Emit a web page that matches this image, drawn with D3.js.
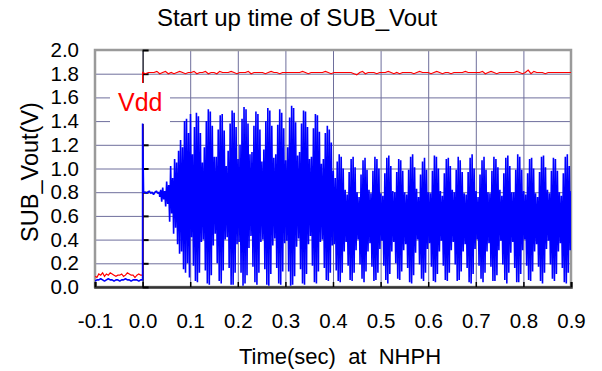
<!DOCTYPE html>
<html>
<head>
<meta charset="utf-8">
<script src="https://cdn.jsdelivr.net/npm/d3@7"></script>
<style>
  html, body { margin: 0; padding: 0; background: #fff; }
  svg { display: block; font-family: "Liberation Sans", Arial, sans-serif; }
</style>
</head>
<body>
<svg id="chart" width="602" height="371"></svg>
<script>
// ---- axis setup ----
const xTicks = [-0.1, 0.0, 0.1, 0.2, 0.3, 0.4, 0.5, 0.6, 0.7, 0.8, 0.9];
const xTickLabels = ["-0.1", "0.0", "0.1", "0.2", "0.3", "0.4", "0.5", "0.6", "0.7", "0.8", "0.9"];
const yTicks = [0.0, 0.2, 0.4, 0.6, 0.8, 1.0, 1.2, 1.4, 1.6, 1.8, 2.0];
const yTickLabels = ["0.0", "0.2", "0.4", "0.6", "0.8", "1.0", "1.2", "1.4", "1.6", "1.8", "2.0"];

// ---- Vdd supply (red) ----
// before power-on: sampled every 4 ms from -0.1 s to 0 s
const vddPreStart = -0.1, vddPreStep = 0.004;
const vddPre = [0.09, 0.08, 0.11, 0.10, 0.12, 0.09, 0.11, 0.10, 0.12, 0.11, 0.10, 0.09, 0.10,
                0.10, 0.11, 0.09, 0.10, 0.12, 0.11, 0.10, 0.10, 0.08, 0.10, 0.11, 0.10, 0.10];
// after power-on: sampled every 6 ms from 0 s to 0.9 s
const vddPostStep = 0.006;
const vddPost = [
  1.81,1.80,1.81,1.81,1.81,1.82,1.80,1.81,1.82,1.80,
  1.81,1.80,1.81,1.82,1.81,1.80,1.81,1.81,1.82,1.80,
  1.81,1.81,1.82,1.80,1.81,1.81,1.80,1.82,1.81,1.81,
  1.81,1.82,1.81,1.80,1.81,1.81,1.81,1.82,1.80,1.81,
  1.81,1.81,1.81,1.80,1.81,1.82,1.81,1.81,1.80,1.81,
  1.81,1.81,1.81,1.81,1.81,1.81,1.82,1.81,1.80,1.81,
  1.81,1.81,1.81,1.81,1.82,1.81,1.80,1.81,1.81,1.81,
  1.81,1.81,1.81,1.81,1.80,1.79,1.81,1.82,1.80,1.81,
  1.81,1.81,1.80,1.81,1.81,1.81,1.82,1.81,1.80,1.81,
  1.80,1.81,1.81,1.81,1.81,1.80,1.81,1.82,1.81,1.81,
  1.81,1.80,1.81,1.82,1.81,1.80,1.81,1.81,1.80,1.81,
  1.81,1.81,1.81,1.82,1.81,1.81,1.81,1.81,1.81,1.82,
  1.80,1.81,1.82,1.81,1.80,1.81,1.81,1.81,1.81,1.81,
  1.81,1.82,1.81,1.80,1.81,1.83,1.80,1.82,1.81,1.81,
  1.81,1.80,1.81,1.81,1.81,1.81,1.81,1.81,1.81,1.81,
  1.81];

// ---- SUB_Vout (blue) ----
const subPre = [0.05, 0.06, 0.06, 0.07, 0.06, 0.05, 0.06, 0.07, 0.06, 0.06, 0.05, 0.06, 0.06,
                0.05, 0.06, 0.06, 0.07, 0.06, 0.06, 0.05, 0.06, 0.06, 0.06, 0.05, 0.06, 0.06];
const subSpike = 1.38;                       // overshoot at power-on
const subSettleStart = 0.002, subSettleStep = 0.003;
const subSettle = [0.80, 0.80, 0.79, 0.80, 0.81, 0.79, 0.80, 0.78, 0.80, 0.81, 0.79, 0.80];
// oscillation: one swing (low -> high) per sample, 6 swings per 25 ms beat
const swingStart = 0.036, swingStep = 0.025 / 6;
const swingHigh = [
  0.82,0.84,0.81,0.89,0.86,1.02, 0.92,1.08,1.05,1.15,1.24,1.18, 1.40,1.42,1.30,1.46,
  1.12,1.35,1.47,1.44,1.30,1.05,
  1.18,1.40,1.50,1.48,1.36,1.10,
  1.10,1.33,1.45,1.46,1.32,1.02,
  1.15,1.38,1.49,1.47,1.35,1.08,
  1.20,1.42,1.52,1.50,1.38,1.12,
  1.14,1.36,1.48,1.46,1.33,1.06,
  1.16,1.40,1.51,1.49,1.36,1.09,
  1.12,1.37,1.50,1.47,1.34,1.07,
  1.18,1.43,1.53,1.51,1.39,1.11,
  1.14,1.38,1.49,1.48,1.35,1.08,
  1.10,1.34,1.46,1.45,1.31,1.04,
  1.08,1.30,1.36,1.33,1.22,0.98,
  0.92,1.06,1.12,1.10,1.00,0.82,
  0.78,0.97,1.08,1.10,1.01,0.80,
  0.76,0.95,1.07,1.09,0.99,0.82,
  0.79,0.98,1.10,1.08,1.00,0.79,
  0.77,0.96,1.09,1.11,1.02,0.81,
  0.80,0.97,1.08,1.07,0.98,0.80,
  0.78,0.99,1.10,1.12,1.01,0.83,
  0.76,0.95,1.06,1.09,0.99,0.80,
  0.79,0.98,1.11,1.10,1.00,0.81,
  0.77,0.96,1.08,1.09,1.02,0.82,
  0.80,0.99,1.10,1.07,0.97,0.79,
  0.78,0.97,1.09,1.12,1.00,0.81,
  0.76,0.95,1.07,1.10,0.99,0.80,
  0.79,0.98,1.10,1.08,1.01,0.82,
  0.77,0.96,1.09,1.11,1.02,0.80,
  0.80,0.99,1.12,1.10,0.99,0.81,
  0.78,0.96,1.08,1.09,1.00,0.79,
  0.76,0.97,1.10,1.11,1.01,0.82,
  0.79,0.98,1.09,1.08,0.98,0.80,
  0.77,0.96,1.10,1.12,1.02,0.81,
  0.80,0.98,1.09,1.10,1.00,0.80];
const swingLow = [
  0.76,0.72,0.74,0.68,0.70,0.55, 0.62,0.45,0.50,0.36,0.28,0.30, 0.15,0.12,0.20,0.08,
  0.42,0.18,0.05,0.04,0.12,0.38,
  0.40,0.14,0.03,0.02,0.10,0.35,
  0.45,0.20,0.05,0.03,0.14,0.40,
  0.42,0.16,0.02,0.02,0.12,0.36,
  0.38,0.12,0.01,0.03,0.10,0.33,
  0.43,0.17,0.04,0.02,0.12,0.38,
  0.40,0.15,0.02,0.01,0.11,0.35,
  0.41,0.16,0.03,0.02,0.13,0.37,
  0.39,0.13,0.01,0.02,0.09,0.34,
  0.41,0.15,0.03,0.02,0.11,0.36,
  0.43,0.18,0.04,0.03,0.13,0.38,
  0.40,0.16,0.06,0.05,0.12,0.35,
  0.36,0.14,0.05,0.04,0.12,0.30,
  0.38,0.18,0.06,0.05,0.12,0.31,
  0.40,0.19,0.07,0.04,0.13,0.30,
  0.37,0.17,0.05,0.06,0.12,0.32,
  0.39,0.18,0.06,0.03,0.11,0.30,
  0.38,0.20,0.07,0.06,0.13,0.31,
  0.36,0.16,0.04,0.03,0.10,0.29,
  0.40,0.19,0.07,0.05,0.12,0.32,
  0.37,0.17,0.05,0.04,0.11,0.30,
  0.39,0.18,0.06,0.05,0.12,0.31,
  0.38,0.19,0.05,0.06,0.13,0.30,
  0.36,0.16,0.04,0.03,0.11,0.32,
  0.40,0.18,0.07,0.04,0.12,0.30,
  0.37,0.17,0.05,0.05,0.10,0.31,
  0.39,0.19,0.06,0.03,0.12,0.29,
  0.38,0.16,0.04,0.04,0.11,0.31,
  0.40,0.18,0.06,0.05,0.13,0.30,
  0.36,0.17,0.05,0.03,0.12,0.32,
  0.39,0.19,0.07,0.05,0.11,0.30,
  0.37,0.16,0.04,0.03,0.12,0.31,
  0.38,0.18,0.06,0.05,0.12,0.30];

// ---- layout ----
const svg = d3.select("#chart");
const plotL = 95, plotR = 571, plotT = 50, plotB = 287;
const x = d3.scaleLinear().domain([-0.1, 0.9]).range([plotL, plotR]);
const y = d3.scaleLinear().domain([0, 2]).range([plotB, plotT]);
const gridColor = "#6e6e9c";

// grid
const gx = svg.append("g").attr("transform", `translate(0,${plotB})`)
  .call(d3.axisBottom(x).tickValues(xTicks.slice(1, -1)).tickSize(-(plotB - plotT)).tickFormat(""));
gx.select(".domain").remove();
gx.selectAll("line").attr("stroke", gridColor).attr("stroke-width", 1);
const gy = svg.append("g").attr("transform", `translate(${plotL},0)`)
  .call(d3.axisLeft(y).tickValues(yTicks.slice(1, -1)).tickSize(-(plotR - plotL)).tickFormat(""));
gy.select(".domain").remove();
gy.selectAll("line").attr("stroke", gridColor).attr("stroke-width", 1);

// frame
svg.append("rect").attr("x", plotL).attr("y", plotT).attr("width", plotR - plotL).attr("height", plotB - plotT)
  .attr("fill", "none").attr("stroke", "#9a9a9a").attr("stroke-width", 2.5);

// bottom axis with inward ticks
const bx = svg.append("g").attr("transform", `translate(0,${plotB})`)
  .call(d3.axisBottom(x).tickValues(xTicks).tickSize(-5).tickFormat(""));
bx.select(".domain").attr("stroke", "#333").attr("stroke-width", 2.5);
bx.selectAll("line").attr("stroke", "#000").attr("stroke-width", 1.5);

// vertical axis at t = 0 with ticks to the right
const zx = svg.append("g").attr("transform", `translate(${x(0)},0)`)
  .call(d3.axisRight(y).tickValues(yTicks).tickSize(6).tickSizeOuter(0).tickFormat(""));
zx.select(".domain").attr("stroke", "#000").attr("stroke-width", 1);
zx.selectAll("line").attr("stroke", "#000").attr("stroke-width", 2);

// tick labels
const lx = svg.append("g").attr("transform", `translate(0,${plotB})`)
  .call(d3.axisBottom(x).tickValues(xTicks).tickSize(0).tickPadding(26)
    .tickFormat((d, i) => xTickLabels[i]));
lx.select(".domain").remove();
lx.selectAll("text").attr("font-size", 20.5).attr("fill", "#000")
  .attr("font-family", "'Liberation Sans', Arial, sans-serif");
const ly = svg.append("g").attr("transform", `translate(${plotL},0)`)
  .call(d3.axisLeft(y).tickValues(yTicks).tickSize(0).tickPadding(16)
    .tickFormat((d, i) => yTickLabels[i]));
ly.select(".domain").remove();
ly.selectAll("text").attr("font-size", 20.5).attr("fill", "#000")
  .attr("font-family", "'Liberation Sans', Arial, sans-serif");

// ---- series geometry ----
const line = d3.line().x(d => x(d[0])).y(d => y(d[1]));
svg.append("clipPath").attr("id", "plotclip")
  .append("rect").attr("x", plotL).attr("y", plotT).attr("width", plotR - plotL).attr("height", plotB - plotT);

const vddPts = vddPre.map((v, i) => [vddPreStart + i * vddPreStep, v])
  .concat(vddPost.map((v, i) => [i * vddPostStep, v]));

const subPts = subPre.map((v, i) => [vddPreStart + i * vddPreStep, v]);
subPts.push([0, subSpike]);
subSettle.forEach((v, i) => subPts.push([subSettleStart + i * subSettleStep, v]));
swingHigh.forEach((h, i) => {
  const t = swingStart + i * swingStep;
  subPts.push([t, swingLow[i]]);
  subPts.push([t + swingStep / 2, h]);
});

const plot = svg.append("g").attr("clip-path", "url(#plotclip)");
plot.append("path").datum(vddPts).attr("d", line)
  .attr("fill", "none").attr("stroke", "#ff0000").attr("stroke-width", 1.2);

// Vdd label on a white patch
plot.append("rect").attr("x", 110).attr("y", 83).attr("width", 60).attr("height", 41).attr("fill", "#fff");
svg.append("text").attr("x", 118).attr("y", 111).attr("font-size", 25).attr("fill", "#ff0000").text("Vdd");

plot.append("path").datum(subPts).attr("d", line)
  .attr("fill", "none").attr("stroke", "#0000ff").attr("stroke-width", 1.6)
  .attr("stroke-linejoin", "miter").attr("stroke-miterlimit", 1);

// ---- titles ----
svg.append("text").attr("x", 297).attr("y", 26).attr("text-anchor", "middle")
  .attr("font-size", 24).attr("fill", "#000").text("Start up time of SUB_Vout");
svg.append("text").attr("x", 340).attr("y", 364).attr("text-anchor", "middle")
  .attr("font-size", 22).attr("fill", "#000").attr("xml:space", "preserve")
  .style("white-space", "pre").text("Time(sec)  at  NHPH");
svg.append("text").attr("transform", `translate(38,172) rotate(-90)`)
  .attr("text-anchor", "middle").attr("font-size", 23.5).attr("fill", "#000").text("SUB_Vout(V)");
</script>
</body>
</html>
